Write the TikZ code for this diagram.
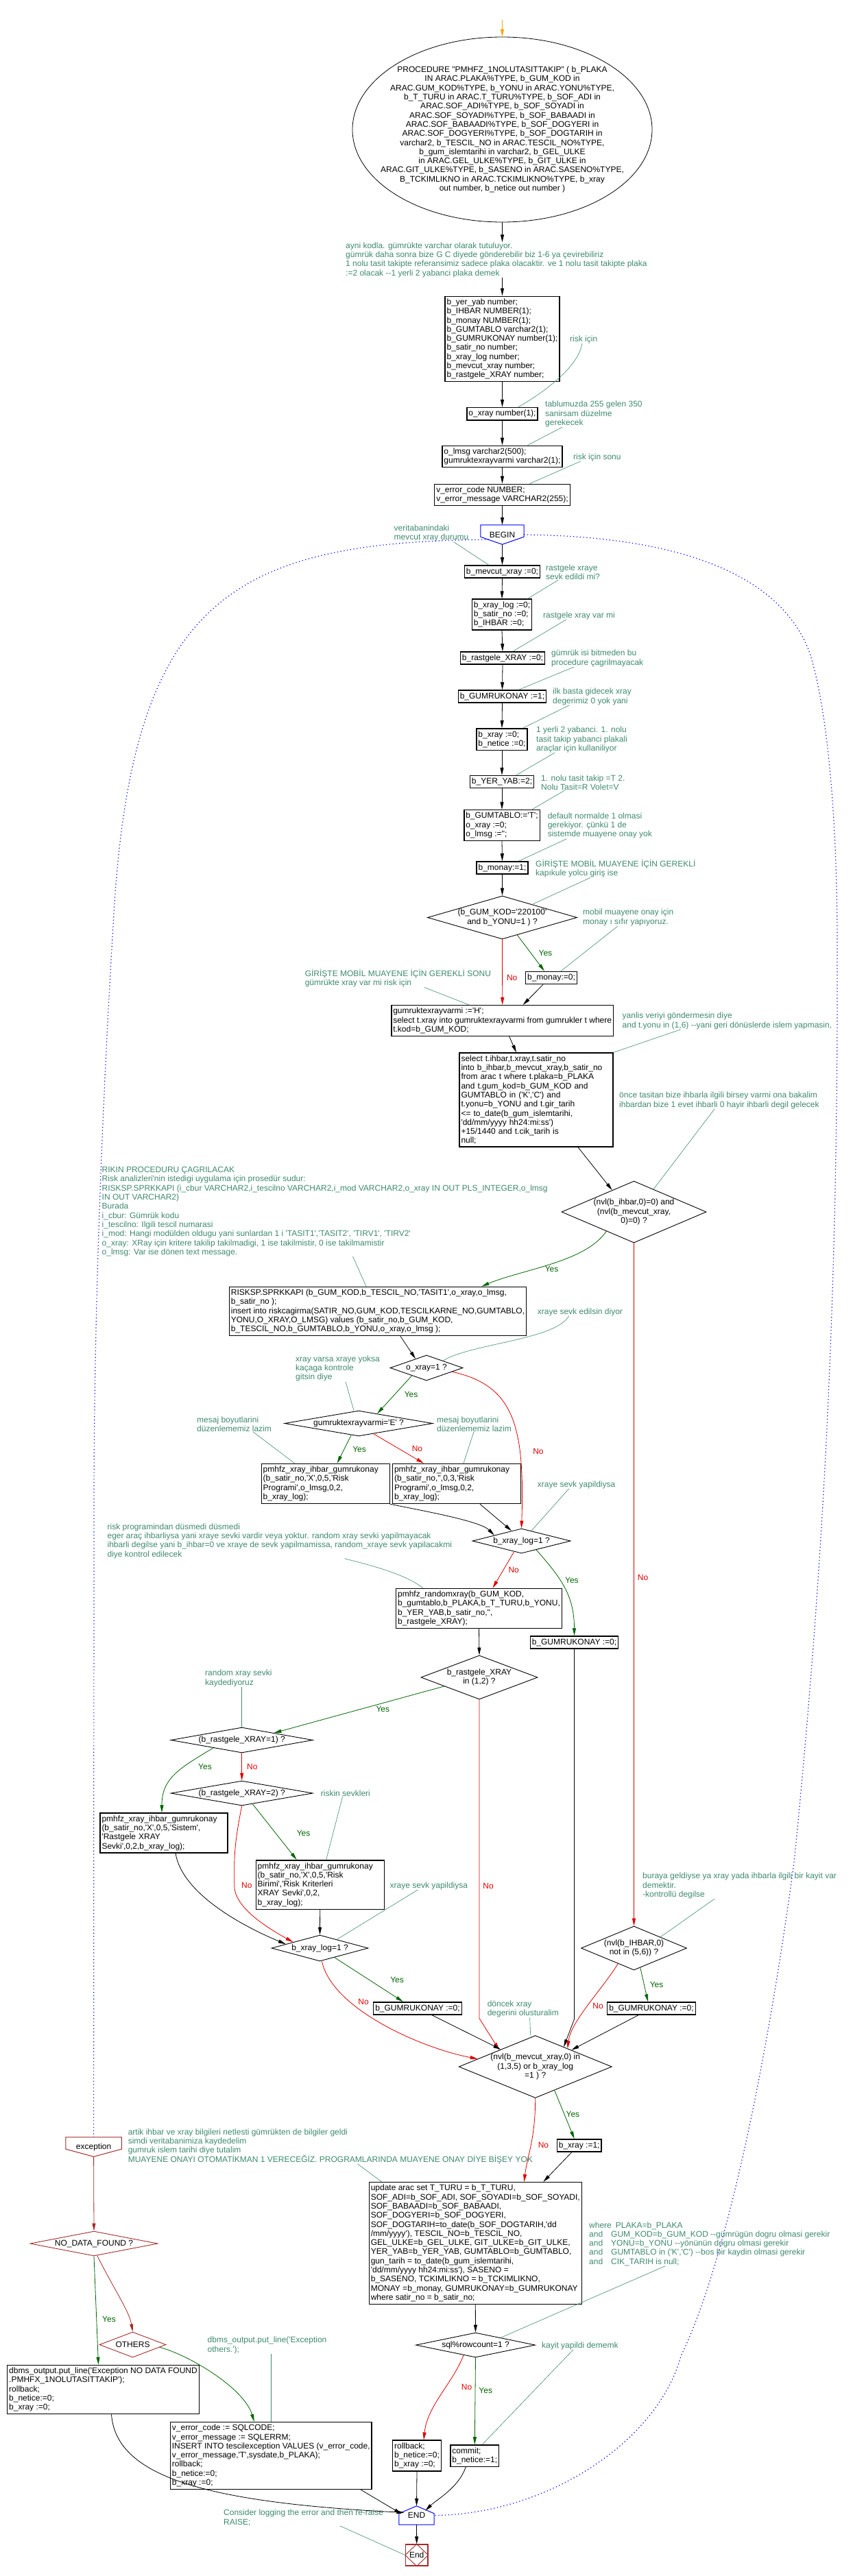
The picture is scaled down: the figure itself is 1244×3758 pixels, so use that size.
\documentclass[tikz,border=0pt]{standalone}
\usepackage{xcolor}
\definecolor{notegreen}{HTML}{3F8A6E}
\definecolor{yesgreen}{HTML}{006400}
\definecolor{nored}{HTML}{E00000}
\definecolor{excred}{HTML}{A52A2A}
\definecolor{beginblue}{HTML}{0000FF}
\definecolor{startorange}{HTML}{FFA500}
\usepackage{fontspec}
\setmainfont{Liberation Sans}[Ligatures=TeXOff]
\usepackage{tikz}
\usetikzlibrary{positioning, arrows.meta, shapes.geometric, calc}

\begin{document}
\catcode`\_=12
\begin{tikzpicture}[
  x=1pt, y=-1pt,
  font=\fontsize{12}{13.3}\selectfont,
  proc/.style={draw, line width=1.4pt, align=left,
               inner xsep=2.5pt, inner ysep=3.5pt},
  decision/.style={diamond, draw, line width=0.9pt,
                   inner sep=0pt, align=center},
  terminal/.style={minimum width=63pt, minimum height=28pt, inner sep=0pt},
  note/.style={text=notegreen, align=left, inner sep=0pt, anchor=west},
  noteline/.style={draw=notegreen, line width=0.6pt},
  flow/.style={draw=black, line width=0.8pt, -{Triangle[length=11pt,width=5pt]}},
  yesflow/.style={flow, draw=yesgreen},
  noflow/.style={flow, draw=nored},
  excflow/.style={flow, draw=excred},
  yeslabel/.style={text=yesgreen, inner sep=1pt},
  nolabel/.style={text=nored, inner sep=1pt},
  flowdot/.style={draw=beginblue, line width=1.2pt, dash pattern=on 1.2pt off 3.6pt}
]
\fill[white] (0,0) rectangle (1244,3758);
\useasboundingbox (0,0) rectangle (1244,3758);

% ---- PROSEDUR BASLIGI ----
\coordinate (start) at (732.5,29);
\node[ellipse, draw, line width=0.8pt, minimum width=437pt, minimum height=270pt,
      inner sep=0pt] (head) at (732.5,189) {};
\node[align=center, inner sep=0pt] (headtext) at (head.center)
  {PROCEDURE "PMHFZ_1NOLUTASITTAKIP" ( b_PLAKA\\
   IN ARAC.PLAKA\%TYPE, b_GUM_KOD in\\
   ARAC.GUM_KOD\%TYPE,  b_YONU in ARAC.YONU\%TYPE,\\
   b_T_TURU in ARAC.T_TURU\%TYPE, b_SOF_ADI in\\
   ARAC.SOF_ADI\%TYPE, b_SOF_SOYADI in\\
   ARAC.SOF_SOYADI\%TYPE, b_SOF_BABAADI in\\
   ARAC.SOF_BABAADI\%TYPE, b_SOF_DOGYERI in\\
   ARAC.SOF_DOGYERI\%TYPE, b_SOF_DOGTARIH in\\
   varchar2, b_TESCIL_NO in  ARAC.TESCIL_NO\%TYPE,\\
   b_gum_islemtarihi in varchar2, b_GEL_ULKE\\
   in ARAC.GEL_ULKE\%TYPE, b_GIT_ULKE in\\
   ARAC.GIT_ULKE\%TYPE, b_SASENO in ARAC.SASENO\%TYPE,\\
   B_TCKIMLIKNO in ARAC.TCKIMLIKNO\%TYPE, b_xray\\
   out number, b_netice out number )};
\draw[flow, draw=startorange] (start) -- (head.north);

% ---- TANIMLAR ----
\node[note] (nt1) at (504,379) {ayni kodla. gümrükte varchar olarak tutuluyor.\\
  gümrük daha sonra bize G C diyede gönderebilir biz 1-6 ya çevirebiliriz\\
  1 nolu tasit takipte referansimiz sadece plaka olacaktir. ve 1 nolu tasit takipte plaka\\
  :=2 olacak --1 yerli 2 yabanci plaka demek};
\node[proc] (decl) at (732.5,494.5) {b_yer_yab number;\\b_IHBAR NUMBER(1);\\b_monay NUMBER(1);\\
  b_GUMTABLO varchar2(1);\\b_GUMRUKONAY number(1);\\b_satir_no  number;\\b_xray_log number;\\
  b_mevcut_xray number;\\b_rastgele_XRAY number;};
\node[note] (nt2) at (831,495) {risk için};
\node[proc] (oxray) at (732.5,603.7) {o_xray number(1);};
\node[note] (nt3) at (795,604) {tablumuzda 255 gelen 350\\sanirsam düzelme\\gerekecek};
\node[proc] (olmsg) at (732.5,666) {o_lmsg  varchar2(500);\\gumruktexrayvarmi varchar2(1);};
\node[note] (nt4) at (836,667) {risk için sonu};
\node[proc] (verr) at (732.5,722) {v_error_code NUMBER;\\v_error_message VARCHAR2(255);};

% ---- BEGIN ----
\node[terminal] (beginnd) at (732.5,780) {BEGIN};
\draw[beginblue, line width=1pt] (beginnd.north west) -- (beginnd.north east)
  -- ([yshift=11pt]beginnd.south east) -- (beginnd.south)
  -- ([yshift=11pt]beginnd.south west) -- cycle;
\node[note] (nt5) at (574.5,778) {veritabanindaki\\mevcut xray durumu};
\node[proc] (bmevcut) at (732.5,834) {b_mevcut_xray :=0;};
\node[note] (nt6) at (796,835) {rastgele xraye\\sevk edildi mi?};
\node[proc] (blog) at (732,896.5) {b_xray_log :=0;\\b_satir_no :=0;\\b_IHBAR :=0;};
\node[note] (nt7) at (792,898) {rastgele xray var mi};
\node[proc] (brast) at (733,960) {b_rastgele_XRAY :=0;};
\node[note] (nt8) at (804,960.5) {gümrük isi bitmeden bu\\procedure çagrilmayacak};
\node[proc] (bgk1) at (732.5,1016) {b_GUMRUKONAY :=1;};
\node[note] (nt9) at (806,1016.5) {ilk basta gidecek xray\\degerimiz 0 yok yani};
\node[proc] (bxray0) at (732,1078.5) {b_xray :=0;\\b_netice :=0;};
\node[note] (nt10) at (782,1079) {1 yerli 2 yabanci. 1. nolu\\tasit takip yabanci plakali\\araçlar için kullaniliyor};
\node[proc] (byer) at (732,1140.5) {b_YER_YAB:=2;};
\node[note] (nt11) at (789,1141.5) {1. nolu tasit takip =T 2.\\Nolu Tasit=R Volet=V};
\node[proc] (btablo) at (732,1204) {b_GUMTABLO:='T';\\o_xray :=0;\\o_lmsg :='';};
\node[note] (nt12) at (798.6,1204.5) {default normalde 1 olmasi\\gerekiyor. çünkü 1 de\\sistemde muayene onay yok};
\node[proc] (bmonay1) at (732.5,1266) {b_monay:=1;};
\node[note] (nt13) at (781,1267) {GİRİŞTE MOBİL MUAYENE İÇİN GEREKLİ\\kapıkule yolcu giriş ise};

% ---- MOBIL MUAYENE ----
\node[decision, minimum width=218pt, minimum height=63pt, aspect=3.46] (dkod) at (732.5,1338.5)
  {(b_GUM_KOD='220100'\\and b_YONU=1 ) ?};
\node[note] (nt14) at (850,1338.5) {mobil muayene onay için\\monay ı sıfır yapıyoruz.};
\node[proc] (bmonay0) at (804,1426.5) {b_monay:=0;};
\node[note] (nt15) at (444.6,1427) {GİRİŞTE MOBİL MUAYENE İÇİN GEREKLİ SONU\\gümrükte xray var mi risk için};
\node[proc] (gumxr) at (732.7,1489) {gumruktexrayvarmi :='H';\\
  select t.xray into gumruktexrayvarmi from gumrukler t where\\t.kod=b_GUM_KOD;};
\node[note] (nt16) at (907.5,1489.5) {yanlis veriyi göndermesin diye\\
  and t.yonu in (1,6) --yani geri dönüslerde islem yapmasin,};
\node[proc, text width=219pt] (selbox) at (782,1604.5) {select t.ihbar,t.xray,t.satir_no\\
  into b_ihbar,b_mevcut_xray,b_satir_no\\from arac  t where t.plaka=b_PLAKA\\
  and t.gum_kod=b_GUM_KOD and\\GUMTABLO in ('K','C') and\\t.yonu=b_YONU and t.gir_tarih\\
  <= to_date(b_gum_islemtarihi,\\'dd/mm/yyyy hh24:mi:ss')\\+15/1440  and t.cik_tarih is\\null;};
\node[note] (nt17) at (903,1605.5) {önce tasitan bize ihbarla ilgili birsey varmi ona bakalim\\
  ihbardan bize 1 evet ihbarli 0 hayir ihbarli degil gelecek};
\node[decision, minimum width=211pt, minimum height=90pt, aspect=2.34] (dihbar) at (924.5,1768)
  {(nvl(b_ihbar,0)=0) and\\(nvl(b_mevcut_xray,\\0)=0) ?};

% ---- RISK PROGRAMI ----
\node[note] (nt18) at (148.5,1767.5) {RIKIN PROCEDURU ÇAGRILACAK\\
  Risk analizleri'nin istedigi uygulama için prosedür sudur:\\
  RISKSP.SPRKKAPI (i_cbur VARCHAR2,i_tescilno VARCHAR2,i_mod VARCHAR2,o_xray IN OUT PLS_INTEGER,o_lmsg\\
  IN OUT VARCHAR2)\\Burada\\i_cbur: Gümrük kodu\\i_tescilno: Ilgili tescil numarasi\\
  i_mod: Hangi modülden oldugu yani sunlardan 1 i 'TASIT1','TASIT2', 'TIRV1', 'TIRV2'\\
  o_xray: XRay için kritere takilip takilmadigi, 1 ise takilmistir, 0 ise takilmamistir\\
  o_lmsg: Var ise dönen text message.};
\node[proc] (risksp) at (551,1913) {RISKSP.SPRKKAPI (b_GUM_KOD,b_TESCIL_NO,'TASIT1',o_xray,o_lmsg,\\
  b_satir_no );\\insert into riskcagirma(SATIR_NO,GUM_KOD,TESCILKARNE_NO,GUMTABLO,\\
  YONU,O_XRAY,O_LMSG) values (b_satir_no,b_GUM_KOD,\\b_TESCIL_NO,b_GUMTABLO,b_YONU,o_xray,o_lmsg );};
\node[note] (nt19) at (783.7,1914) {xraye sevk edilsin diyor};
\node[decision, minimum width=106pt, minimum height=37pt, aspect=2.86] (doxray) at (622,1995.5) {o_xray=1 ?};
\node[note] (nt20) at (431,1996.5) {xray varsa xraye yoksa\\kaçaga kontrole\\gitsin diye};
\node[decision, minimum width=216pt, minimum height=37pt, aspect=5.8] (dgumxr) at (523,2076.5) {gumruktexrayvarmi='E' ?};
\node[note] (nt21) at (287,2077.5) {mesaj boyutlarini\\düzenlememiz lazim};
\node[note] (nt22) at (637,2077.5) {mesaj boyutlarini\\düzenlememiz lazim};
\node[proc, text width=182pt] (ihbar1) at (474.7,2164.5) {pmhfz_xray_ihbar_gumrukonay\\
  (b_satir_no,'X',0,5,'Risk\\Programi',o_lmsg,0,2,\\b_xray_log);};
\node[proc, text width=182pt] (ihbar2) at (666,2164.5) {pmhfz_xray_ihbar_gumrukonay\\
  (b_satir_no,'',0,3,'Risk\\Programi',o_lmsg,0,2,\\b_xray_log);};
\node[note] (nt23) at (783.7,2166) {xraye sevk yapildiysa};
\node[decision, minimum width=143pt, minimum height=36pt, aspect=3.97] (dlog1) at (760.5,2248) {b_xray_log=1 ?};

% ---- RASTGELE XRAY ----
\node[note] (nt24) at (156.4,2248) {risk programindan düsmedi düsmedi\\
  eger araç ihbarliysa yani  xraye sevki vardir veya yoktur. random xray sevki yapilmayacak\\
  ihbarli degilse yani b_ihbar=0 ve xraye de sevk yapilmamissa, random_xraye sevk yapilacakmi\\
  diye kontrol edilecek};
\node[proc] (rndbox) at (698.5,2346.5) {pmhfz_randomxray(b_GUM_KOD,\\
  b_gumtablo,b_PLAKA,b_T_TURU,b_YONU,\\b_YER_YAB,b_satir_no,'',\\b_rastgele_XRAY);};
\node[proc] (gk0a) at (837.5,2396) {b_GUMRUKONAY :=0;};
\node[decision, minimum width=170pt, minimum height=64pt, aspect=2.66] (drast12) at (699,2447)
  {b_rastgele_XRAY\\in (1,2) ?};
\node[note] (nt25) at (299,2448.5) {random xray sevki\\kaydediyoruz};
\node[decision, minimum width=207pt, minimum height=37pt, aspect=5.6] (drast1) at (352.7,2538.5)
  {(b_rastgele_XRAY=1) ?};
\node[decision, minimum width=207pt, minimum height=36pt, aspect=5.75] (drast2) at (352.7,2616)
  {(b_rastgele_XRAY=2) ?};
\node[note] (nt26) at (467.7,2616) {riskin sevkleri};
\node[proc, text width=181pt] (xsis) at (239,2674) {pmhfz_xray_ihbar_gumrukonay\\
  (b_satir_no,'X',0,5,'Sistem',\\'Rastgele XRAY\\Sevki',0,2,b_xray_log);};
\node[proc, text width=182pt] (xrisk) at (466.7,2749.5) {pmhfz_xray_ihbar_gumrukonay\\
  (b_satir_no,'X',0,5,'Risk\\Birimi','Risk Kriterleri\\XRAY Sevki',0,2,\\b_xray_log);};
\node[note] (nt27) at (568.5,2751) {xraye sevk yapildiysa};
\node[decision, minimum width=141pt, minimum height=38pt, aspect=3.7] (dlog2) at (466.5,2842) {b_xray_log=1 ?};
\node[proc] (gk0b) at (609,2930) {b_GUMRUKONAY :=0;};
\node[decision, minimum width=154pt, minimum height=64pt, aspect=2.4] (dihbar2) at (924.5,2842)
  {(nvl(b_IHBAR,0)\\not in (5,6)) ?};
\node[note] (nt28) at (937,2751) {buraya geldiyse ya xray yada ihbarla ilgili bir kayit var\\
  demektir.\\-kontrollü degilse};
\node[proc] (gk0c) at (950,2930) {b_GUMRUKONAY :=0;};
\node[note] (nt29) at (710.6,2931) {döncek xray\\degerini olusturalim};
\node[decision, minimum width=223pt, minimum height=91pt, aspect=2.45] (dfin) at (780.7,3015)
  {(nvl(b_mevcut_xray,0) in\\(1,3,5) or b_xray_log\\=1 ) ?};

% ---- KAYIT ----
\node[proc] (bxray1) at (844.7,3130) {b_xray :=1;};
\node[note] (nt30) at (186.6,3131) {artik ihbar ve xray bilgileri netlesti gümrükten de bilgiler geldi\\
  simdi veritabanimiza kaydedelim\\gumruk islem tarihi diye tutalim\\
  MUAYENE ONAYI  OTOMATİKMAN 1 VERECEĞİZ. PROGRAMLARINDA MUAYENE ONAY DİYE BİŞEY YOK};
\node[proc] (updbox) at (693.3,3272.5) {update arac set  T_TURU = b_T_TURU,\\
  SOF_ADI=b_SOF_ADI, SOF_SOYADI=b_SOF_SOYADI,\\SOF_BABAADI=b_SOF_BABAADI,\\
  SOF_DOGYERI=b_SOF_DOGYERI,\\SOF_DOGTARIH=to_date(b_SOF_DOGTARIH,'dd\\
  /mm/yyyy'), TESCIL_NO=b_TESCIL_NO,\\GEL_ULKE=b_GEL_ULKE, GIT_ULKE=b_GIT_ULKE,\\
  YER_YAB=b_YER_YAB, GUMTABLO=b_GUMTABLO,\\gun_tarih = to_date(b_gum_islemtarihi,\\
  'dd/mm/yyyy hh24:mi:ss'),  SASENO =\\b_SASENO, TCKIMLIKNO = b_TCKIMLIKNO,\\
  MONAY =b_monay,  GUMRUKONAY=b_GUMRUKONAY\\where satir_no = b_satir_no;};
\node[note] (nt31) at (859,3273.5) {where\hspace{6pt}PLAKA=b_PLAKA\\
  and\hspace{12pt}GUM_KOD=b_GUM_KOD --gümrügün dogru olmasi gerekir\\
  and\hspace{12pt}YONU=b_YONU --yönünün dogru olmasi gerekir\\
  and\hspace{12pt}GUMTABLO in ('K','C') --bos bir kaydin olmasi gerekir\\
  and\hspace{12pt}CIK_TARIH is null;};
\node[decision, minimum width=174pt, minimum height=36pt, aspect=4.8] (dsql) at (693.5,3421) {sql\%rowcount=1 ?};
\node[note] (nt33) at (790,3422) {kayit yapildi dememk};
\node[proc] (rollbk) at (608,3582.5) {rollback;\\b_netice:=0;\\b_xray :=0;};
\node[proc] (commitbx) at (692.3,3582.5) {commit;\\b_netice:=1;};

% ---- EXCEPTION ----
\node[terminal, minimum width=81pt] (excnd) at (136.6,3132) {exception};
\draw[excred, line width=1pt] (excnd.north west) -- (excnd.north east)
  -- ([yshift=11pt]excnd.south east) -- (excnd.south)
  -- ([yshift=11pt]excnd.south west) -- cycle;
\node[decision, draw=excred, minimum width=186pt, minimum height=36pt, aspect=5.2] (dndf) at (137,3273) {NO_DATA_FOUND ?};
\node[decision, draw=excred, minimum width=97pt, minimum height=37pt, aspect=2.6] (dothers) at (193.5,3420.5) {OTHERS};
\node[note] (nt32) at (302.5,3421.5) {dbms_output.put_line('Exception\\others.');};
\node[proc] (ndfbox) at (150.5,3486) {dbms_output.put_line('Exception NO DATA FOUND\\
  .PMHFX_1NOLUTASITTAKIP');\\rollback;\\b_netice:=0;\\b_xray :=0;};
\node[proc] (verrbox) at (395.3,3582.5) {v_error_code := SQLCODE;\\v_error_message := SQLERRM;\\
  INSERT INTO tescilexception VALUES (v_error_code,\\v_error_message,'T',sysdate,b_PLAKA);\\
  rollback;\\b_netice:=0;\\b_xray :=0;};

% ---- END ----
\node[terminal, minimum width=51pt, minimum height=27pt] (endnd) at (607.5,3669.5) {END};
\draw[beginblue, line width=1pt] (endnd.north) -- ([yshift=-11pt]endnd.north east)
  -- (endnd.south east) -- (endnd.south west) -- ([yshift=-11pt]endnd.north west) -- cycle;
\node[draw=excred, line width=1.2pt, minimum width=32.5pt, minimum height=31pt, inner sep=0pt]
  (finalnd) at (607.7,3727.5) {End};
\draw[excred, line width=0.9pt] (finalnd.north) -- (finalnd.east) -- (finalnd.south)
  -- (finalnd.west) -- cycle;
\node[note] (nt34) at (326,3673) {Consider logging the error and then re-raise\\RAISE;};

% ---- Ana akis ----
\draw[flow] (head.south) -- (head.south |- nt1.north);
\draw[flow] (nt1.south -| decl.north) -- (decl.north);
\draw[flow] (decl.south) -- (oxray.north);
\draw[flow] (oxray.south) -- (olmsg.north);
\draw[flow] (olmsg.south) -- (verr.north);
\draw[flow] (verr.south) -- (beginnd.north);
\draw[flow] (beginnd.south) -- (bmevcut.north);
\draw[flow] (bmevcut.south) -- (blog.north);
\draw[flow] (blog.south) -- (brast.north);
\draw[flow] (brast.south) -- (bgk1.north);
\draw[flow] (bgk1.south) -- (bxray0.north);
\draw[flow] (bxray0.south) -- (byer.north);
\draw[flow] (byer.south) -- (btablo.north);
\draw[flow] (btablo.south) -- (bmonay1.north);
\draw[flow] (bmonay1.south) -- (dkod.north);

\draw[yesflow] ($(dkod.south)!0.2!(dkod.east)$) -- node[yeslabel, right=10pt] (lb1) {Yes} ([xshift=-10pt]bmonay0.north);
\draw[noflow] (dkod.south) -- node[nolabel, pos=0.59, right=5pt] (lb2) {No} (gumxr.north);
\draw[flow] ([xshift=-12pt]bmonay0.south) -- ([xshift=30pt]gumxr.north);
\draw[flow] ([xshift=10pt]gumxr.south) -- ([xshift=-29pt]selbox.north);
\draw[flow] ([xshift=61pt]selbox.south) -- ($(dihbar.north)!0.3!(dihbar.west)$);

\draw[yesflow] ($(dihbar.south)!0.38!(dihbar.west)$) .. controls +(-30,45) and +(60,-25)
  .. node[yeslabel, pos=0.5, below=2pt] (lb3) {Yes} ([xshift=-66pt]risksp.north east);
\draw[noflow] (dihbar.south) -- node[nolabel, pos=0.49, right=4pt] (lb4) {No} (dihbar2.north);
\draw[flow] ([xshift=33pt]risksp.south) -- ($(doxray.north)!0.3!(doxray.west)$);
\draw[yesflow] ($(doxray.south)!0.4!(doxray.west)$) -- node[yeslabel, right=13pt] (lb5) {Yes}
  ($(dgumxr.north)!0.25!(dgumxr.east)$);
\draw[noflow] ($(doxray.east)!0.3!(doxray.south)$) .. controls +(90,20) and +(5,-150)
  .. node[nolabel, pos=0.7, right=18pt] (lb6) {No} (dlog1.north);

\draw[yesflow] ($(dgumxr.south)!0.1!(dgumxr.west)$) -- node[yeslabel, right=11pt] (lb7) {Yes} ([xshift=17pt]ihbar1.north);
\draw[noflow] ($(dgumxr.south)!0.2!(dgumxr.east)$) -- node[nolabel, right=18pt] (lb8) {No} ([xshift=-48pt]ihbar2.north);
\draw[flow] (ihbar1.south east) .. controls +(60,12) and +(-20,-20) .. ($(dlog1.north)!0.55!(dlog1.west)$);
\draw[flow] ([xshift=34pt]ihbar2.south) -- ($(dlog1.north)!0.2!(dlog1.west)$);

\draw[noflow] ($(dlog1.south)!0.15!(dlog1.west)$) -- node[nolabel, right=6pt] (lb9) {No} ([xshift=20pt]rndbox.north);
\draw[yesflow] ($(dlog1.south)!0.3!(dlog1.east)$) .. controls +(35,40) and +(0,-60)
  .. node[yeslabel, pos=0.4, right=6pt] (lb10) {Yes} (gk0a.north);
\draw[flow] (rndbox.south) -- (drast12.north);
\draw[flow] (gk0a.south) -- ++(0,540) -- ($(dfin.north)!0.37!(dfin.east)$);

\draw[noflow] (drast12.south) -- node[nolabel, pos=0.585, right=4pt] (lb11) {No} ++(0,465)
  -- ($(dfin.north)!0.47!(dfin.west)$);
\draw[yesflow] ($(drast12.west)!0.4!(drast12.south)$) -- node[yeslabel, pos=0.36, below=3pt] (lb12) {Yes}
  ($(drast1.north)!0.45!(drast1.east)$);
\draw[yesflow] ($(drast1.south)!0.4!(drast1.west)$) .. controls +(-50,30) and +(0,-50)
  .. node[yeslabel, pos=0.35, right=20pt] (lb13) {Yes} ([xshift=-3pt]xsis.north);
\draw[noflow] (drast1.south) -- node[nolabel, right=6pt] (lb14) {No} (drast2.north);
\draw[yesflow] ($(drast2.south)!0.15!(drast2.east)$) -- node[yeslabel, pos=0.53, right=29pt] (lb15) {Yes}
  ([xshift=-34pt]xrisk.north);
\draw[noflow] (drast2.south) .. controls +(-12,60) and +(0,-40) .. ++(-11,116)
  node[nolabel, right=9pt] (lb16) {No}
  .. controls +(0,30) and +(-45,-25) .. ($(dlog2.north)!0.55!(dlog2.west)$);
\draw[flow] ([xshift=17pt]xsis.south) .. controls +(10,60) and +(-60,-25) .. ($(dlog2.north)!0.7!(dlog2.west)$);
\draw[flow] (xrisk.south) -- (dlog2.north);

\draw[yesflow] ($(dlog2.south)!0.3!(dlog2.east)$) -- node[yeslabel, right=30pt] (lb17) {Yes} ([xshift=-21pt]gk0b.north);
\draw[noflow] ([xshift=3pt]dlog2.south) .. controls +(15,70) and +(-80,-15)
  .. node[nolabel, pos=0.3, right=11pt] (lb25) {No} ($(dfin.north)!0.75!(dfin.west)$);
\draw[flow] ([xshift=21pt]gk0b.south) -- ($(dfin.north)!0.45!(dfin.west)$);

\draw[yesflow] ($(dihbar2.south)!0.12!(dihbar2.east)$) -- node[yeslabel, right=7pt] (lb18) {Yes} ([xshift=-5pt]gk0c.north);
\draw[noflow] ($(dihbar2.south)!0.3!(dihbar2.west)$) .. controls +(-25,40) and +(5,-40)
  .. node[nolabel, right=6pt] (lb19) {No} ($(dfin.north)!0.42!(dfin.east)$);
\draw[flow] ([xshift=-19pt]gk0c.south) -- ($(dfin.north)!0.47!(dfin.east)$);

\draw[yesflow] ($(dfin.south)!0.25!(dfin.east)$) -- node[yeslabel, right=1pt] (lb20) {Yes} ([xshift=-7pt]bxray1.north);
\draw[noflow] (dfin.south) .. controls +(0,60) and +(5,-40)
  .. node[nolabel, right=9pt] (lb21) {No} ([xshift=71pt]updbox.north);
\draw[flow] ([xshift=-11pt]bxray1.south) -- ([xshift=99pt]updbox.north);
\draw[flow] (updbox.south) -- (dsql.north);
\draw[noflow] ($(dsql.south)!0.2!(dsql.west)$) .. controls +(-15,40) and +(5,-50)
  .. node[nolabel, pos=0.4, right=21pt] (lb22) {No} ([xshift=10pt]rollbk.north);
\draw[yesflow] (dsql.south) -- node[yeslabel, pos=0.38, right=4pt] (lb23) {Yes} (commitbx.north);
\draw[flow] (rollbk.south) -- (endnd.north);
\draw[flow] ([xshift=-13pt]commitbx.south) .. controls +(-10,30) and +(15,-15) .. ($(endnd.north)!0.5!(endnd.east)$);
\draw[flow] (endnd.south) -- (finalnd.north);

% ---- Exception akisi ----
\draw[excflow] (excnd.south) -- (dndf.north);
\draw[yesflow] (dndf.south) -- node[yeslabel, pos=0.58, right=7pt] (lb24) {Yes} ([xshift=-7pt]ndfbox.north);
\draw[excflow] ($(dndf.south)!0.05!(dndf.east)$) .. controls +(25,50) and +(-5,-30) .. (dothers.north);
\draw[yesflow] ($(dothers.east)!0.2!(dothers.south)$) .. controls +(40,10) and +(-15,-50) .. ([xshift=123pt]verrbox.north west);
\draw[flow] ([xshift=12pt]ndfbox.south) .. controls +(7,88) and +(-299,-15) .. ($(endnd.north)!0.7!(endnd.west)$);
\draw[flow] ([xshift=131pt]verrbox.south) -- ($(endnd.north)!0.85!(endnd.west)$);

% ---- BEGIN/END baglari ----
\draw[flowdot] ([xshift=12pt,yshift=7pt]beginnd.south west) .. controls (330,790) and (190,880) .. (165,1350)
  .. controls (150,1600) and (137,1900) .. (137,2200) -- (excnd.north);
\draw[flowdot] (beginnd.east) .. controls (950,782) and (1130,820) .. (1180,950)
  .. controls (1200,1010) and (1222,1150) .. (1221,1400)
  .. controls (1222,1900) and (1200,2300) .. (1158,2717)
  .. controls (1120,3000) and (1060,3300) .. (993,3437)
  .. controls (960,3560) and (800,3668) .. (endnd.east);

% ---- Not baglari ----
\draw[noteline] ([xshift=18pt]nt2.south west) .. controls +(-5,35) and +(35,-20) .. ([xshift=-29pt]oxray.north east);
\draw[noteline] ([xshift=25pt]nt3.south west) -- ([xshift=37pt]olmsg.north);
\draw[noteline] ([xshift=11pt]nt4.south west) -- ([xshift=40pt]verr.north);
\draw[noteline] ([xshift=87pt]nt5.south west) -- ([xshift=36pt]bmevcut.north west);
\draw[noteline] ([xshift=18pt]nt6.south west) -- ([xshift=-7pt]blog.north east);
\draw[noteline] ([xshift=34pt]nt7.south west) -- ([xshift=15pt]brast.north);
\draw[noteline] ([xshift=33pt]nt8.south west) -- ([xshift=24pt]bgk1.north);
\draw[noteline] ([xshift=24pt]nt9.south west) -- ([xshift=-7pt]bxray0.north east);
\draw[noteline] ([xshift=27pt]nt10.south west) -- ([xshift=21pt]byer.north);
\draw[noteline] ([xshift=35pt]nt11.south west) -- ([xshift=-12pt]btablo.north east);
\draw[noteline] ([xshift=28pt]nt12.south west) -- ([xshift=24pt]bmonay1.north);
\draw[noteline] ([xshift=80pt]nt13.south west) -- ($(dkod.north)!0.4!(dkod.east)$);
\draw[noteline] ([xshift=51pt]nt14.south west) -- ([xshift=14pt]bmonay0.north);
\draw[noteline] ([xshift=174pt]nt15.south west) -- ([xshift=114pt]gumxr.north west);
\draw[noteline] ([xshift=85pt]nt16.south west) -- (selbox.north east);
\draw[noteline] ([xshift=139pt]nt17.south west) -- ($(dihbar.north)!0.27!(dihbar.east)$);
\draw[noteline] ([xshift=366pt]nt18.south west) -- ([xshift=-17pt]risksp.north);
\draw[noteline] ([xshift=46pt]nt19.south west) .. controls +(-20,35) and +(40,-25) .. ($(doxray.north)!0.45!(doxray.east)$);
\draw[noteline] ([xshift=73pt]nt20.south west) -- ([xshift=-7pt]dgumxr.north);
\draw[noteline] ([xshift=82pt]nt21.south west) -- ([xshift=-45pt]ihbar1.north);
\draw[noteline] ([xshift=54pt]nt22.south west) -- ([xshift=10pt]ihbar2.north);
\draw[noteline] ([xshift=46pt]nt23.south west) -- ($(dlog1.north)!0.2!(dlog1.east)$);
\draw[noteline] ([xshift=346pt]nt24.south west) .. controls +(40,10) and +(-25,-20) .. ([xshift=40pt]rndbox.north west);
\draw[noteline] (nt25.south -| drast1.north) -- (drast1.north);
\draw[noteline] ([xshift=32pt]nt26.south west) -- ([xshift=9pt]xrisk.north);
\draw[noteline] ([xshift=41pt]nt27.south west) -- ($(dlog2.north)!0.35!(dlog2.east)$);
\draw[noteline] ([xshift=105pt]nt28.south west) -- ($(dihbar2.north)!0.5!(dihbar2.east)$);
\draw[noteline] ([xshift=62pt]nt29.south west) -- ([xshift=-7pt]dfin.north);
\draw[noteline] ([xshift=335pt]nt30.south west) -- ([xshift=19pt]updbox.north west);
\draw[noteline] ([xshift=111pt]nt31.south west) -- ($(dsql.north)!0.42!(dsql.east)$);
\draw[noteline] (nt32.south -| verrbox.north) -- (verrbox.north);
\draw[noteline] ([xshift=46pt]nt33.south west) -- ([xshift=-25pt]commitbx.north east);
\draw[noteline] ([xshift=170pt]nt34.south west) -- (finalnd.west);

\end{tikzpicture}
\end{document}
